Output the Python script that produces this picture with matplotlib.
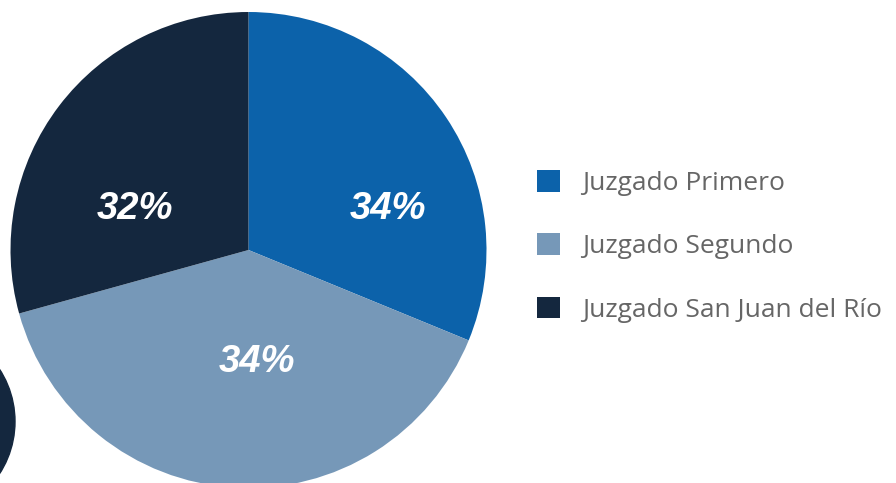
import matplotlib

matplotlib.use("Agg")
import matplotlib.pyplot as plt
from matplotlib.patches import Circle

# slice sizes; printed labels kept as shown
CATEGORIES = ["Juzgado Primero", "Juzgado Segundo", "Juzgado San Juan del Río"]
SHARES = [31.2, 39.5, 29.3]
PCT_LABELS = ["34%", "34%", "32%"]
COLORS = ["#0c62aa", "#7698b8", "#14273e"]

W, H = 896, 483
PIE_CENTER = (248.5, H - 250)
PIE_RADIUS = 238
LABEL_POS = [(388, H - 209), (257, H - 362), (135, H - 209)]

fig = plt.figure(figsize=(W / 100, H / 100), dpi=100)
ax = fig.add_axes([0, 0, 1, 1])
ax.set_xlim(0, W)
ax.set_ylim(0, H)
ax.set_aspect("equal")
ax.axis("off")

# decorative dark circle peeking in at the lower left
ax.add_patch(Circle((-81, H - 421.5), 96, color="#14273e", zorder=0))

wedges, _ = ax.pie(
    SHARES,
    colors=COLORS,
    startangle=90,
    counterclock=False,
    center=PIE_CENTER,
    radius=PIE_RADIUS,
    wedgeprops={"linewidth": 0},
)
ax.set_xlim(0, W)
ax.set_ylim(0, H)

for (x, y), txt in zip(LABEL_POS, PCT_LABELS):
    ax.text(x, y, txt, ha="center", va="center", color="white",
            fontsize=27.5, fontweight="bold", fontstyle="italic",
            family=["Liberation Sans", "DejaVu Sans"])

leg = fig.legend(
    wedges,
    CATEGORIES,
    loc="upper left",
    bbox_to_anchor=(537 / W, 1 - 170 / H),
    frameon=False,
    prop={"family": ["Open Sans", "DejaVu Sans"], "size": 19},
    handlelength=0.88,
    handleheight=0.88,
    handletextpad=0.82,
    labelspacing=1.42,
    borderpad=0,
    borderaxespad=0,
)
for t in leg.get_texts():
    t.set_color("#666666")

fig.savefig("out.png", dpi=100)
